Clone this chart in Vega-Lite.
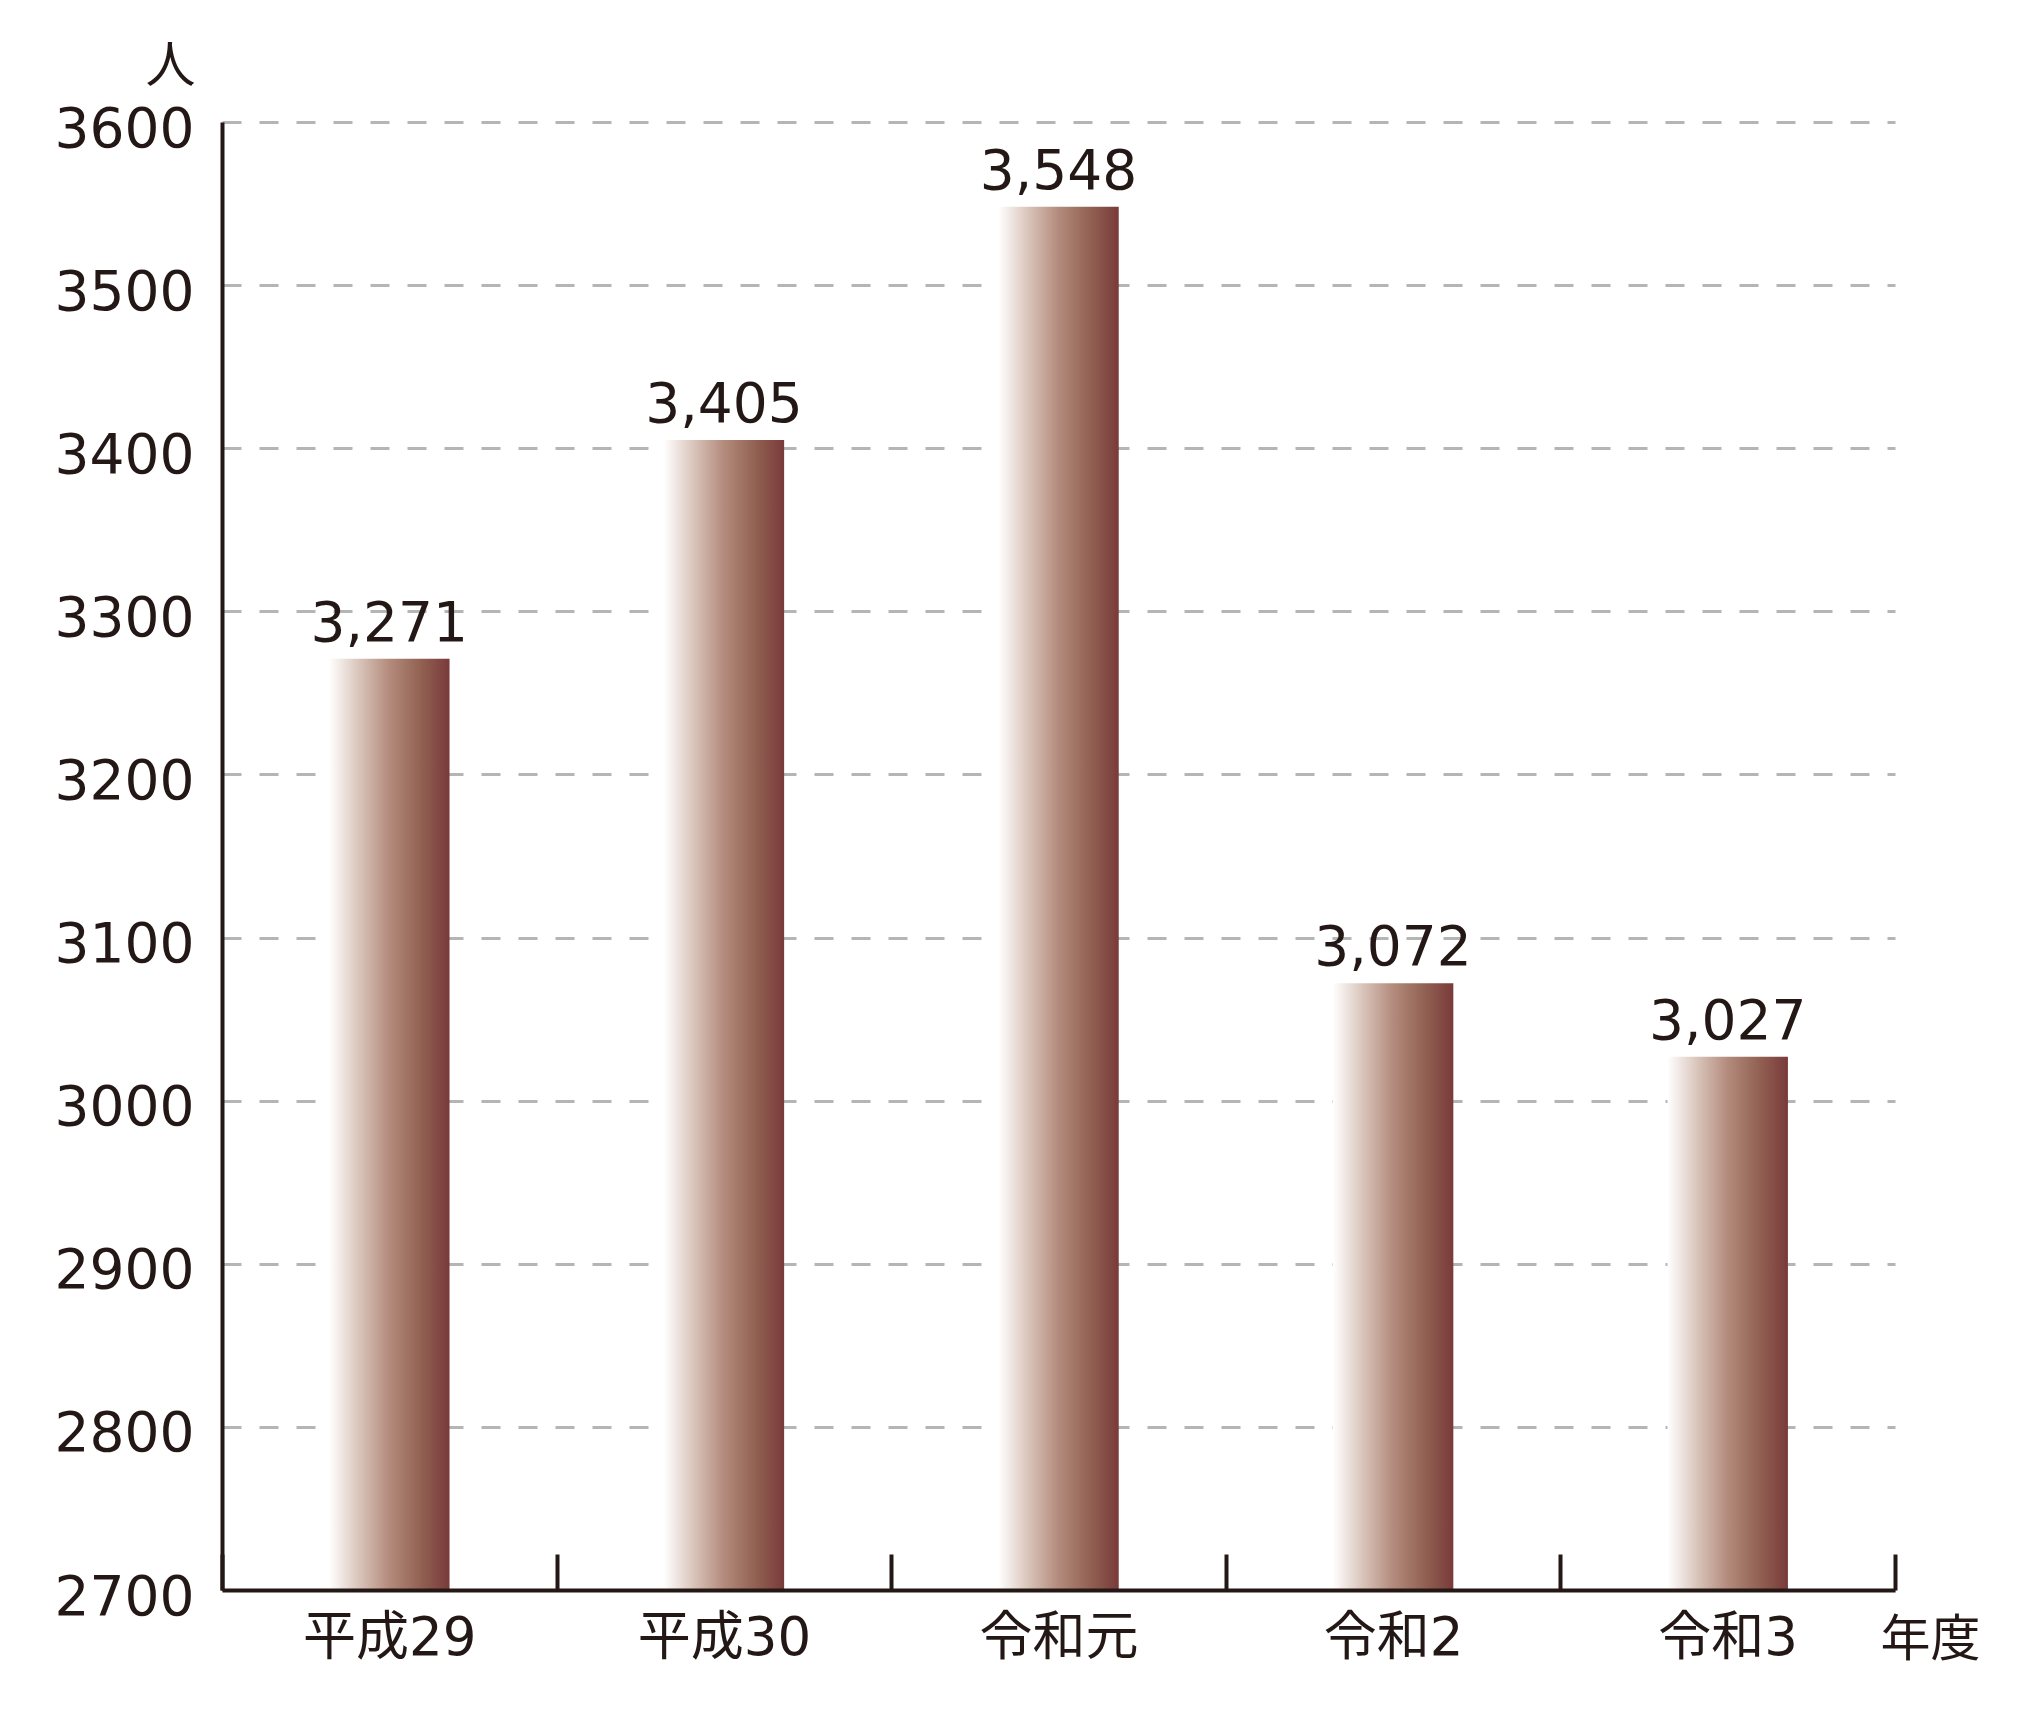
{
  "$schema": "https://vega.github.io/schema/vega-lite/v6.json",
  "width": 1673,
  "height": 1468,
  "autosize": {"type": "none"},
  "padding": {"left": 222, "top": 122, "right": 129, "bottom": 128},
  "background": "#ffffff",
  "config": {
    "view": {"stroke": null},
    "font": "DejaVu Sans"
  },
  "data": {
    "values": [
      {"year": "平成29", "value": 3271, "label": "3,271"},
      {"year": "平成30", "value": 3405, "label": "3,405"},
      {"year": "令和元", "value": 3548, "label": "3,548"},
      {"year": "令和2", "value": 3072, "label": "3,072"},
      {"year": "令和3", "value": 3027, "label": "3,027"}
    ]
  },
  "encoding": {
    "x": {
      "field": "year",
      "type": "nominal",
      "sort": null,
      "scale": {"paddingInner": 0, "paddingOuter": 0},
      "axis": {
        "title": "年度",
        "titleFont": "Noto Sans CJK JP",
        "titleFontSize": 50,
        "titleFontWeight": "normal",
        "titleColor": "#231815",
        "titleAngle": 0,
        "titleX": 1708,
        "titleY": 50,
        "titleAlign": "center",
        "titleBaseline": "middle",
        "labelAngle": 0,
        "labelFont": "DejaVu Sans, Noto Sans CJK JP",
        "labelFontSize": 53,
        "labelColor": "#231815",
        "labelPadding": 58,
        "labelBaseline": "top",
        "tickBand": "extent",
        "tickSize": -36,
        "tickWidth": 4,
        "tickColor": "#231815",
        "domainColor": "#231815",
        "domainWidth": 4,
        "grid": false,
        "zindex": 1
      }
    },
    "y": {
      "field": "value",
      "type": "quantitative",
      "scale": {"domain": [2700, 3600], "zero": false, "nice": false},
      "axis": {
        "title": "人",
        "titleFont": "Noto Sans CJK JP",
        "titleFontSize": 50,
        "titleFontWeight": "normal",
        "titleColor": "#231815",
        "titleAngle": 0,
        "titleX": -52,
        "titleY": -56,
        "titleAlign": "center",
        "titleBaseline": "middle",
        "values": [2700, 2800, 2900, 3000, 3100, 3200, 3300, 3400, 3500, 3600],
        "format": "d",
        "labelFont": "DejaVu Sans",
        "labelFontSize": 55,
        "labelColor": "#231815",
        "labelPadding": 28,
        "labelOffset": 7,
        "ticks": false,
        "domainColor": "#231815",
        "domainWidth": 4,
        "grid": true,
        "gridColor": "#b5b5b5",
        "gridWidth": 3,
        "gridDash": [19, 18]
      }
    }
  },
  "layer": [
    {
      "mark": {
        "type": "bar",
        "clip": true,
        "width": {"band": 0.36},
        "color": {
          "gradient": "linear",
          "x1": 0, "y1": 0, "x2": 1, "y2": 0,
          "stops": [
            {"offset": 0, "color": "#ffffff"},
            {"offset": 0.25, "color": "#d9c4ba"},
            {"offset": 0.5, "color": "#b38b7c"},
            {"offset": 0.75, "color": "#936354"},
            {"offset": 1, "color": "#793a3a"}
          ]
        }
      }
    },
    {
      "mark": {
        "type": "text",
        "baseline": "alphabetic",
        "align": "center",
        "dy": -18,
        "font": "DejaVu Sans",
        "fontSize": 55,
        "color": "#231815"
      },
      "encoding": {"text": {"field": "label"}}
    }
  ]
}
